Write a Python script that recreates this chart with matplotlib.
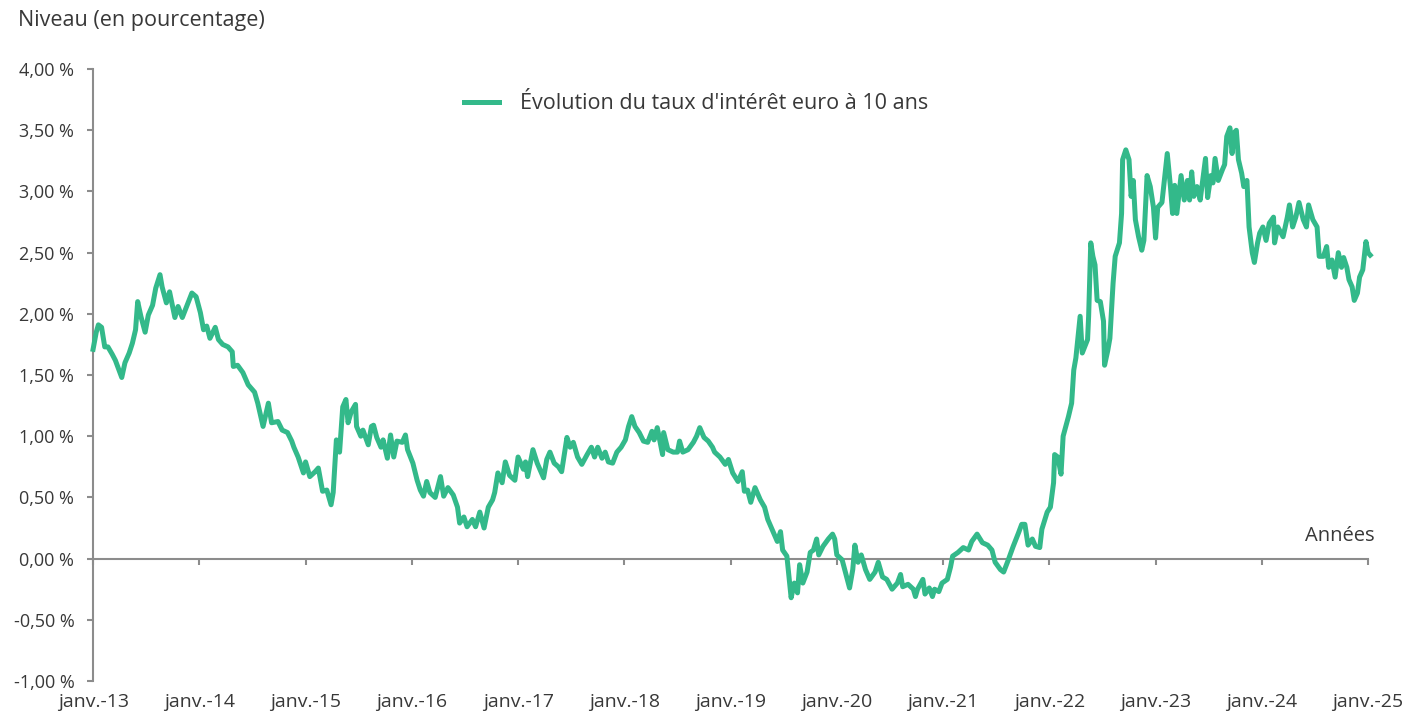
import matplotlib
matplotlib.use('Agg')
import matplotlib.pyplot as plt
import numpy as np

# decimal years / 10y euro rate (%)
years = [2013.00, 2013.03, 2013.05, 2013.08, 2013.11, 2013.14, 2013.18, 2013.21, 2013.24, 2013.27,
         2013.30, 2013.34, 2013.37, 2013.40, 2013.42, 2013.45, 2013.49, 2013.52, 2013.56, 2013.59,
         2013.63, 2013.65, 2013.69, 2013.72, 2013.77, 2013.80, 2013.84, 2013.88, 2013.93, 2013.97,
         2014.01, 2014.04, 2014.07, 2014.10, 2014.15, 2014.18, 2014.22, 2014.27, 2014.31, 2014.32,
         2014.36, 2014.41, 2014.46, 2014.52, 2014.55, 2014.60, 2014.65, 2014.68, 2014.74, 2014.78,
         2014.83, 2014.87, 2014.89, 2014.93, 2014.98, 2015.00, 2015.04, 2015.09, 2015.12, 2015.16,
         2015.20, 2015.24, 2015.26, 2015.29, 2015.32, 2015.35, 2015.38, 2015.40, 2015.43, 2015.47,
         2015.48, 2015.52, 2015.54, 2015.59, 2015.62, 2015.64, 2015.67, 2015.71, 2015.73, 2015.77,
         2015.80, 2015.83, 2015.86, 2015.91, 2015.94, 2015.96, 2016.01, 2016.05, 2016.08, 2016.11,
         2016.14, 2016.17, 2016.22, 2016.27, 2016.30, 2016.34, 2016.39, 2016.43, 2016.45, 2016.49,
         2016.52, 2016.57, 2016.60, 2016.64, 2016.68, 2016.72, 2016.76, 2016.78, 2016.81, 2016.85,
         2016.88, 2016.92, 2016.97, 2017.00, 2017.05, 2017.07, 2017.09, 2017.14, 2017.18, 2017.24,
         2017.27, 2017.30, 2017.34, 2017.38, 2017.41, 2017.46, 2017.49, 2017.52, 2017.56, 2017.60,
         2017.65, 2017.69, 2017.72, 2017.75, 2017.79, 2017.82, 2017.85, 2017.89, 2017.93, 2017.97,
         2018.01, 2018.04, 2018.07, 2018.10, 2018.14, 2018.18, 2018.22, 2018.26, 2018.28, 2018.31,
         2018.36, 2018.37, 2018.41, 2018.46, 2018.50, 2018.52, 2018.55, 2018.60, 2018.65, 2018.68,
         2018.71, 2018.75, 2018.79, 2018.83, 2018.85, 2018.90, 2018.95, 2018.98, 2019.02, 2019.07,
         2019.11, 2019.13, 2019.16, 2019.19, 2019.23, 2019.28, 2019.32, 2019.35, 2019.39, 2019.44,
         2019.47, 2019.49, 2019.53, 2019.55, 2019.57, 2019.60, 2019.63, 2019.65, 2019.68, 2019.72,
         2019.75, 2019.78, 2019.81, 2019.83, 2019.87, 2019.92, 2019.96, 2019.98, 2020.00, 2020.05,
         2020.08, 2020.12, 2020.15, 2020.17, 2020.20, 2020.23, 2020.27, 2020.31, 2020.36, 2020.39,
         2020.43, 2020.47, 2020.52, 2020.57, 2020.60, 2020.62, 2020.67, 2020.72, 2020.74, 2020.76,
         2020.81, 2020.83, 2020.87, 2020.90, 2020.92, 2020.96, 2020.99, 2021.04, 2021.07, 2021.09,
         2021.14, 2021.19, 2021.24, 2021.27, 2021.32, 2021.37, 2021.42, 2021.46, 2021.49, 2021.54,
         2021.57, 2021.61, 2021.66, 2021.71, 2021.74, 2021.77, 2021.80, 2021.84, 2021.87, 2021.91,
         2021.93, 2021.98, 2022.01, 2022.04, 2022.05, 2022.08, 2022.11, 2022.13, 2022.18, 2022.21,
         2022.23, 2022.25, 2022.29, 2022.31, 2022.36, 2022.37, 2022.39, 2022.41, 2022.43, 2022.45,
         2022.48, 2022.51, 2022.52, 2022.55, 2022.57, 2022.60, 2022.62, 2022.66, 2022.68, 2022.69,
         2022.72, 2022.75, 2022.77, 2022.79, 2022.81, 2022.84, 2022.87, 2022.89, 2022.92, 2022.95,
         2022.98, 2023.00, 2023.02, 2023.06, 2023.08, 2023.11, 2023.14, 2023.16, 2023.18, 2023.20,
         2023.24, 2023.27, 2023.30, 2023.32, 2023.34, 2023.36, 2023.39, 2023.42, 2023.47, 2023.49,
         2023.52, 2023.54, 2023.56, 2023.59, 2023.63, 2023.65, 2023.67, 2023.70, 2023.72, 2023.74,
         2023.76, 2023.78, 2023.81, 2023.83, 2023.86, 2023.88, 2023.91, 2023.93, 2023.96, 2023.98,
         2024.01, 2024.04, 2024.07, 2024.11, 2024.12, 2024.15, 2024.20, 2024.24, 2024.26, 2024.29,
         2024.32, 2024.35, 2024.39, 2024.42, 2024.44, 2024.48, 2024.52, 2024.54, 2024.58, 2024.61,
         2024.63, 2024.66, 2024.69, 2024.72, 2024.75, 2024.77, 2024.80, 2024.82, 2024.85, 2024.87,
         2024.90, 2024.92, 2024.95, 2024.98, 2025.00, 2025.02]

rate = [1.71, 1.85, 1.91, 1.89, 1.73, 1.73, 1.67, 1.62, 1.55, 1.48,
        1.60, 1.68, 1.76, 1.87, 2.10, 1.98, 1.85, 1.99, 2.07, 2.21,
        2.32, 2.22, 2.09, 2.18, 1.97, 2.06, 1.97, 2.06, 2.17, 2.14,
        2.01, 1.87, 1.90, 1.80, 1.89, 1.79, 1.75, 1.73, 1.69, 1.57,
        1.58, 1.52, 1.42, 1.36, 1.27, 1.08, 1.27, 1.11, 1.12, 1.05,
        1.03, 0.96, 0.91, 0.83, 0.70, 0.79, 0.67, 0.71, 0.74, 0.55,
        0.56, 0.44, 0.54, 0.97, 0.87, 1.24, 1.30, 1.11, 1.20, 1.26,
        1.08, 1.00, 1.05, 0.93, 1.08, 1.09, 0.99, 0.91, 0.97, 0.82,
        1.01, 0.83, 0.96, 0.95, 1.01, 0.89, 0.78, 0.64, 0.56, 0.51,
        0.63, 0.54, 0.50, 0.67, 0.51, 0.58, 0.52, 0.42, 0.29, 0.34,
        0.26, 0.32, 0.26, 0.38, 0.25, 0.42, 0.48, 0.54, 0.70, 0.62,
        0.79, 0.68, 0.64, 0.83, 0.73, 0.79, 0.67, 0.89, 0.78, 0.66,
        0.81, 0.87, 0.78, 0.75, 0.71, 0.99, 0.91, 0.95, 0.83, 0.77,
        0.85, 0.91, 0.83, 0.91, 0.82, 0.87, 0.79, 0.78, 0.87, 0.91,
        0.97, 1.08, 1.16, 1.08, 1.03, 0.96, 0.95, 1.04, 0.97, 1.07,
        0.85, 1.03, 0.89, 0.87, 0.87, 0.96, 0.87, 0.89, 0.95, 1.00,
        1.07, 0.99, 0.96, 0.91, 0.87, 0.83, 0.77, 0.81, 0.70, 0.63,
        0.71, 0.55, 0.56, 0.46, 0.58, 0.48, 0.42, 0.32, 0.24, 0.14,
        0.22, 0.07, 0.02, -0.15, -0.32, -0.20, -0.28, -0.05, -0.20, -0.11,
        0.05, 0.07, 0.16, 0.03, 0.10, 0.16, 0.20, 0.16, 0.03, -0.01,
        -0.11, -0.24, -0.09, 0.11, -0.03, 0.03, -0.09, -0.17, -0.11, -0.03,
        -0.15, -0.17, -0.25, -0.20, -0.13, -0.23, -0.21, -0.25, -0.31, -0.25,
        -0.17, -0.29, -0.24, -0.31, -0.25, -0.27, -0.20, -0.17, -0.07, 0.02,
        0.05, 0.09, 0.07, 0.14, 0.20, 0.13, 0.11, 0.07, -0.03, -0.09,
        -0.11, -0.02, 0.10, 0.21, 0.28, 0.28, 0.11, 0.16, 0.10, 0.09,
        0.24, 0.38, 0.42, 0.62, 0.85, 0.83, 0.69, 1.00, 1.16, 1.27,
        1.54, 1.64, 1.98, 1.68, 1.79, 1.98, 2.58, 2.47, 2.40, 2.11,
        2.10, 1.94, 1.58, 1.70, 1.80, 2.25, 2.47, 2.58, 2.82, 3.26,
        3.34, 3.26, 2.96, 3.09, 2.77, 2.63, 2.52, 2.60, 3.13, 3.04,
        2.87, 2.62, 2.87, 2.91, 3.07, 3.31, 3.04, 2.82, 3.05, 2.82,
        3.13, 2.93, 3.09, 2.93, 3.16, 2.96, 3.04, 2.93, 3.27, 2.95,
        3.13, 3.07, 3.27, 3.09, 3.18, 3.22, 3.45, 3.52, 3.31, 3.48,
        3.50, 3.26, 3.15, 3.04, 3.09, 2.71, 2.50, 2.42, 2.58, 2.66,
        2.71, 2.60, 2.74, 2.79, 2.58, 2.71, 2.63, 2.79, 2.89, 2.71,
        2.79, 2.91, 2.77, 2.71, 2.89, 2.77, 2.71, 2.47, 2.47, 2.55,
        2.38, 2.44, 2.30, 2.50, 2.38, 2.46, 2.38, 2.28, 2.22, 2.11,
        2.17, 2.30, 2.36, 2.59, 2.50, 2.48]

tick_years = list(range(2013, 2026))
tick_labels = ['janv.-{:02d}'.format(y % 100) for y in tick_years]
y_ticks = [-1.0, -0.5, 0.0, 0.5, 1.0, 1.5, 2.0, 2.5, 3.0, 3.5, 4.0]

green = '#33B98A'
grey = '#8C8C8C'
txt = '#383838'
plt.rcParams['font.family'] = ['Open Sans', 'DejaVu Sans']

fig = plt.figure(figsize=(14.23, 7.19), dpi=100)
ax = fig.add_axes([0.0654, 0.0529, 0.896, 0.851])

ax.plot(years, rate, color=green, lw=3.6, solid_joinstyle='round',
        label="Évolution du taux d'intérêt euro à 10 ans", clip_on=False, zorder=3)

ax.set_xlim(2013, 2025)
ax.set_ylim(-1, 4)
for s in ['top', 'right']:
    ax.spines[s].set_visible(False)
ax.spines['bottom'].set_position(('data', 0))
for s in ['left', 'bottom']:
    ax.spines[s].set_color(grey)
    ax.spines[s].set_linewidth(1.5)

ax.set_yticks(y_ticks)
ax.set_yticklabels(['{:.2f} %'.format(v).replace('.', ',') for v in y_ticks])
ax.tick_params(axis='y', direction='out', length=4.5, width=1.5, color=grey,
               labelsize=13, labelcolor=txt, pad=9)
ax.set_xticks(tick_years)
ax.set_xticklabels([])
ax.tick_params(axis='x', direction='out', length=4.5, width=1.5, color=grey)

xt = ax.get_xaxis_transform()
for y, lab in zip(tick_years, tick_labels):
    ax.text(y, -0.02, lab, transform=xt, ha='center', va='top',
            fontsize=14, color=txt)

fig.text(0.0125, 0.971, 'Niveau (en pourcentage)', fontsize=15.5, color=txt,
         ha='left', va='center')
ax.text(2025.06, 0.1, 'Années', ha='right', va='bottom', fontsize=14.5, color=txt)

fig.legend(loc='center', bbox_to_anchor=(0.489, 0.856), frameon=False,
           fontsize=15.5, handlelength=1.65, handletextpad=0.95, labelcolor=txt)

fig.savefig('out.png', dpi=100)
